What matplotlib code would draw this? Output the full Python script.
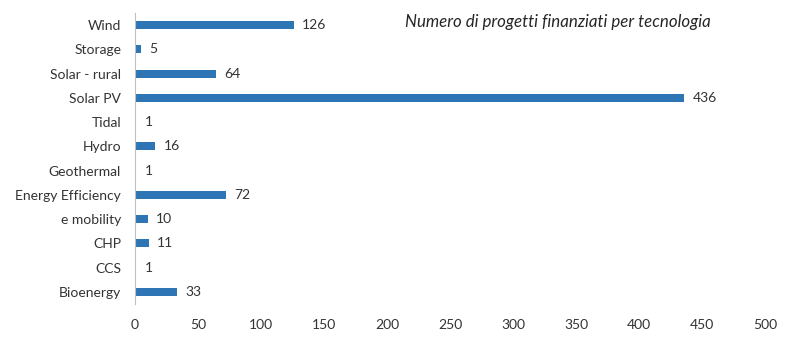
import matplotlib
matplotlib.use("Agg")
import matplotlib.pyplot as plt

categories = ["Bioenergy", "CCS", "CHP", "e mobility", "Energy Efficiency",
              "Geothermal", "Hydro", "Tidal", "Solar PV", "Solar - rural",
              "Storage", "Wind"]
values = [33, 1, 11, 10, 72, 1, 16, 1, 436, 64, 5, 126]
x_ticks = [0, 50, 100, 150, 200, 250, 300, 350, 400, 450, 500]
title = "Numero di progetti finanziati per tecnologia"

plt.rcParams["font.family"] = ["Lato", "DejaVu Sans"]
text_color = "#333333"
bar_color = "#2E75B6"
fs = 10

fig = plt.figure(figsize=(8.0, 3.47), dpi=100)
ax = fig.add_axes([135 / 800, 1 - 304 / 347, 630 / 800, 291 / 347])

y = range(len(categories))
ax.barh(y, values, height=0.33, color=bar_color)
for yi, v in zip(y, values):
    ax.annotate(str(v), (v, yi), xytext=(6, 0), textcoords="offset points",
                va="center", ha="left", fontsize=fs, color=text_color)

ax.set_xlim(0, 500)
ax.set_ylim(-0.5, len(categories) - 0.5)
ax.set_yticks(list(y))
ax.set_yticklabels(categories, fontsize=fs, color=text_color)
ax.set_xticks(x_ticks)
ax.set_xticklabels([str(t) for t in x_ticks], fontsize=fs, color=text_color)
ax.tick_params(axis="both", length=0)
ax.tick_params(axis="x", pad=11)
ax.tick_params(axis="y", pad=10)

for side in ["top", "right", "bottom"]:
    ax.spines[side].set_visible(False)
ax.spines["left"].set_color("#BFBFBF")
ax.spines["left"].set_linewidth(0.8)

fig.text(405 / 800, 1 - 22 / 347, title, fontsize=12.2, style="italic",
         color="#262626", ha="left", va="center")

fig.savefig("out.png", dpi=100)
